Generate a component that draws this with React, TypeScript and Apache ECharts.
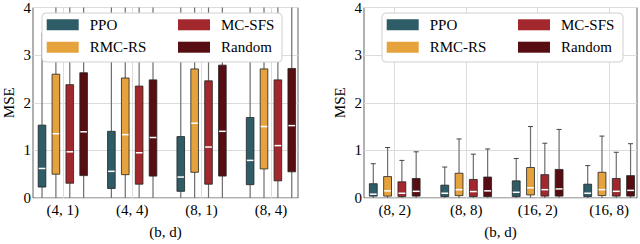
import React, { useEffect, useRef } from "react";
import * as echarts from "echarts";

const methods = ["PPO", "RMC-RS", "MC-SFS", "Random"];
const colors = ["#2E5C67", "#E6A33D", "#A2282E", "#570D11"];
const leftCategories = ["(4, 1)", "(4, 4)", "(8, 1)", "(8, 4)"];
const rightCategories = ["(8, 2)", "(8, 8)", "(16, 2)", "(16, 8)"];
const yTicks = [0, 1, 2, 3, 4];

// [whisker low, q1, median, q3, whisker high] per category
const leftPPO = [[0, 0.23, 0.62, 1.53, 3.47], [0, 0.2, 0.56, 1.4, 4.5], [0, 0.14, 0.44, 1.29, 4.5], [0, 0.28, 0.79, 1.69, 4.5]];
const leftRMC = [[0, 0.5, 1.35, 2.6, 4.5], [0, 0.49, 1.33, 2.52, 4.5], [0, 0.54, 1.57, 2.71, 4.5], [0, 0.61, 1.5, 2.71, 4.5]];
const leftMC = [[0, 0.31, 0.97, 2.38, 4.5], [0, 0.29, 0.95, 2.35, 4.5], [0, 0.29, 1.07, 2.46, 4.5], [0, 0.36, 1.1, 2.48, 4.5]];
const leftRandom = [[0, 0.47, 1.39, 2.63, 4.5], [0, 0.46, 1.27, 2.48, 4.5], [0, 0.46, 1.4, 2.79, 4.5], [0, 0.55, 1.52, 2.72, 4.5]];
const rightPPO = [[0, 0.04, 0.08, 0.3, 0.72], [0, 0.03, 0.1, 0.27, 0.65], [0, 0.03, 0.12, 0.36, 0.83], [0, 0.03, 0.1, 0.29, 0.68]];
const rightRMC = [[0, 0.04, 0.15, 0.45, 1.06], [0, 0.05, 0.175, 0.52, 1.24], [0, 0.065, 0.215, 0.64, 1.5], [0, 0.05, 0.175, 0.54, 1.3]];
const rightMC = [[0, 0.03, 0.1, 0.34, 0.79], [0, 0.03, 0.135, 0.39, 0.92], [0, 0.04, 0.175, 0.49, 1.15], [0, 0.04, 0.14, 0.41, 0.96]];
const rightRandom = [[0, 0.04, 0.14, 0.41, 0.97], [0, 0.03, 0.15, 0.44, 1.03], [0, 0.04, 0.19, 0.6, 1.44], [0, 0.04, 0.16, 0.47, 1.14]];

const FONT = "'Liberation Serif', 'Times New Roman', serif";
const OFFSETS = [-0.3, -0.1, 0.1, 0.3];
const BOX_W = 0.11;
const Y_MAX = 4;

function makeRender(color: string, caps: boolean) {
  return (params: any, api: any) => {
    const x = api.value(0);
    const lo = api.value(1);
    const q1 = api.value(2);
    const med = api.value(3);
    const q3 = api.value(4);
    const hi = Math.min(api.value(5), Y_MAX);
    const pLo = api.coord([x, lo]);
    const cx = pLo[0];
    const yLo = pLo[1];
    const yQ1 = api.coord([x, q1])[1];
    const yMed = api.coord([x, med])[1];
    const yQ3 = api.coord([x, q3])[1];
    const yHi = api.coord([x, hi])[1];
    const hw = api.size([BOX_W, 0])[0] / 2;
    const wStyle = { stroke: "#6e6e6e", lineWidth: 1.2 };
    const children: any[] = [
      { type: "line", shape: { x1: cx, y1: yQ1, x2: cx, y2: yLo }, style: wStyle },
      { type: "line", shape: { x1: cx, y1: yQ3, x2: cx, y2: yHi }, style: wStyle },
    ];
    if (caps) {
      children.push({ type: "line", shape: { x1: cx - 2.5, y1: yHi, x2: cx + 2.5, y2: yHi }, style: { stroke: "#444", lineWidth: 1 } });
    }
    children.push(
      { type: "rect", shape: { x: cx - hw, y: yQ3, width: hw * 2, height: yQ1 - yQ3 }, style: { fill: color, stroke: "#222", lineWidth: 0.8 } },
      { type: "line", shape: { x1: cx - hw + 0.5, y1: yMed, x2: cx + hw - 0.5, y2: yMed }, style: { stroke: "#ffffff", lineWidth: 1.5 } }
    );
    return { type: "group", children };
  };
}

export default function App() {
  const ref = useRef<HTMLDivElement>(null);
  useEffect(() => {
    if (!ref.current) return;
    const chart = echarts.init(ref.current, undefined, { renderer: "svg" });
    const panels = [
      { cats: leftCategories, data: [leftPPO, leftRMC, leftMC, leftRandom], caps: false },
      { cats: rightCategories, data: [rightPPO, rightRMC, rightMC, rightRandom], caps: true },
    ];
    const grids = [
      { left: 24, top: 6, width: 274, height: 205 },
      { left: 364, top: 6, width: 273, height: 205 },
    ];
    const xAxes = panels.map((p, i) => ({
      type: "value",
      gridIndex: i,
      min: -0.43,
      max: 3.39,
      axisLine: { show: false },
      axisTick: { show: false, customValues: [0, 1, 2, 3] },
      axisLabel: {
        customValues: [0, 1, 2, 3],
        formatter: (v: number) => p.cats[Math.round(v)] ?? "",
        fontFamily: FONT,
        fontSize: 15,
        color: "#000",
        margin: 4,
      },
      splitLine: { show: true, lineStyle: { color: "#dcdcdc", width: 1 } },
      name: "(b, d)",
      nameLocation: "middle",
      nameGap: 26,
      nameTextStyle: { fontFamily: FONT, fontSize: 15, color: "#000" },
    }));
    const yAxes = panels.map((p, i) => ({
      type: "value",
      gridIndex: i,
      min: 0,
      max: 4,
      interval: 1,
      axisLine: { show: false },
      axisTick: { show: false },
      axisLabel: {
        formatter: (v: number) => (yTicks.includes(v) ? String(v) : ""),
        fontFamily: FONT,
        fontSize: 15,
        color: "#000",
        margin: 2,
      },
      splitLine: { show: true, lineStyle: { color: "#dcdcdc", width: 1 } },
      name: "MSE",
      nameLocation: "middle",
      nameGap: 17,
      nameTextStyle: { fontFamily: FONT, fontSize: 15, color: "#000" },
    }));
    const series: any[] = [];
    panels.forEach((p, pi) => {
      p.data.forEach((arr, mi) => {
        series.push({
          type: "custom",
          name: methods[mi],
          xAxisIndex: pi,
          yAxisIndex: pi,
          z: 2,
          itemStyle: { color: colors[mi] },
          encode: { x: 0, y: [1, 2, 3, 4, 5] },
          data: arr.map((v, ci) => [ci + OFFSETS[mi], ...v]),
          renderItem: makeRender(colors[mi], p.caps),
        });
      });
    });
    const legendBase = {
      orient: "vertical",
      icon: "rect",
      itemWidth: 32,
      itemHeight: 11,
      itemGap: 7.4,
      padding: 0,
      selectedMode: false,
      z: 20,
      itemStyle: { borderWidth: 0 },
      textStyle: { fontFamily: FONT, fontSize: 15, color: "#000", lineHeight: 15, padding: [0, 0, 0, 6] },
    };
    const legends = [
      { ...legendBase, data: ["PPO", "RMC-RS"], left: 46.7, top: 17.3 },
      { ...legendBase, data: ["MC-SFS", "Random"], left: 178, top: 17.3 },
      { ...legendBase, data: ["PPO", "RMC-RS"], left: 386.7, top: 17.3 },
      { ...legendBase, data: ["MC-SFS", "Random"], left: 518, top: 17.3 },
    ];
    const frameStyle = { fill: "#ffffff", stroke: "#d0d0d0", lineWidth: 1 };
    chart.setOption({
      animation: false,
      backgroundColor: "#ffffff",
      grid: grids.map((g) => ({ ...g, show: true, borderColor: "#3a3a3a", borderWidth: 0.8, backgroundColor: "transparent" })),
      xAxis: xAxes,
      yAxis: yAxes,
      legend: legends,
      graphic: {
        elements: [
          { type: "rect", z: 10, shape: { x: 42, y: 13, width: 240, height: 49, r: 4 }, style: frameStyle },
          { type: "rect", z: 10, shape: { x: 382, y: 13, width: 241, height: 49, r: 4 }, style: frameStyle },
        ],
      },
      series,
    });
    return () => chart.dispose();
  }, []);
  return <div ref={ref} style={{ position: "fixed", left: 0, top: 0, width: 640, height: 244 }} />;
}
